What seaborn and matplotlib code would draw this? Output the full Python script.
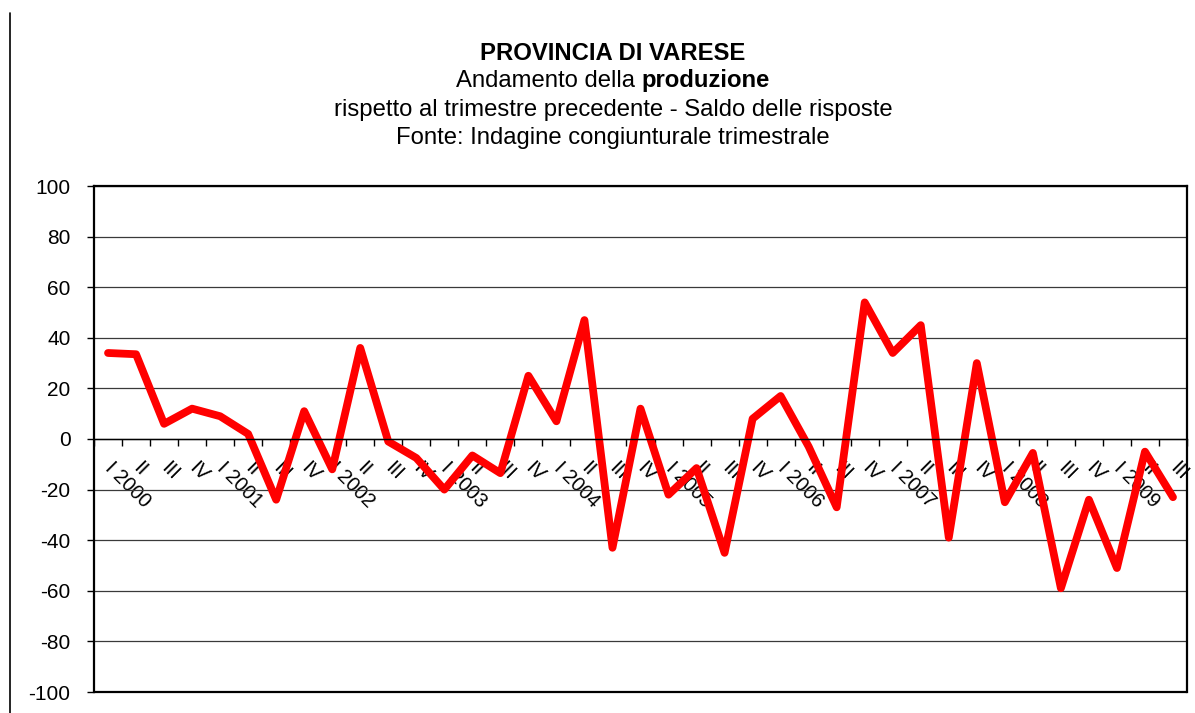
import numpy as np
import pandas as pd
import seaborn as sns
import matplotlib.pyplot as plt
from matplotlib.lines import Line2D
from matplotlib.ticker import MultipleLocator

# data (saldo delle risposte, trimestrale)
years = ["2000", "2001", "2002", "2003", "2004", "2005", "2006", "2007", "2008", "2009"]
quarters = ["I", "II", "III", "IV"]
saldo = [34, 33.5, 6, 12, 9, 2, -24, 11, -12, 36,
         -1, -7.5, -20, -6.5, -13.5, 25, 7, 47, -43, 12,
         -22, -11.5, -45, 8, 17, -3, -27, 54, 34, 45,
         -39, 30, -25, -5.5, -59, -24, -51, -5, -23]

# category labels: "I 2000", "II", "III", "IV", "I 2001", ...
labels = []
for y in years:
    for q in quarters:
        labels.append(f"{q} {y}" if q == "I" else q)
labels = labels[:len(saldo)]

df = pd.DataFrame({"pos": np.arange(len(saldo)), "saldo": saldo})

sns.set_theme(style="white")
plt.rcParams["font.family"] = ["Liberation Sans", "DejaVu Sans"]
plt.rcParams["axes.unicode_minus"] = False

W, H = 1195, 713
fig = plt.figure(figsize=(W / 100, H / 100), dpi=100)
ax = fig.add_axes([94 / W, 1 - 692 / H, (1187 - 94) / W, (692 - 186) / H])

sns.lineplot(data=df, x="pos", y="saldo", ax=ax, color="#ff0000",
             linewidth=5.6, solid_joinstyle="round", solid_capstyle="round")

ax.set_xlim(-0.5, len(saldo) - 0.5)
ax.set_ylim(-100, 100)
ax.yaxis.set_major_locator(MultipleLocator(20))
ax.yaxis.grid(True, color="#3a3a3a", linewidth=0.9)
ax.set_axisbelow(True)
ax.set_xlabel("")
ax.set_ylabel("")

# box border
for side in ["left", "top", "right"]:
    ax.spines[side].set_color("black")
    ax.spines[side].set_linewidth(1.6)
# category axis crosses at zero
ax.spines["bottom"].set_position(("data", 0))
ax.spines["bottom"].set_color("black")
ax.spines["bottom"].set_linewidth(1.0)
# bottom border of the plot area
ax.axhline(-100, color="black", linewidth=1.6, clip_on=False)

ax.set_xticks(df["pos"])
ax.set_xticklabels(labels, rotation=-45, ha="left", va="center",
                   rotation_mode="anchor", fontsize=14.5, color="black")
ax.set_xticks(np.arange(-0.5, len(saldo)), minor=True)
ax.tick_params(axis="x", which="major", length=0, pad=19)
ax.tick_params(axis="x", which="minor", length=5, width=1, color="black", direction="out", bottom=True)
ax.tick_params(axis="y", which="major", length=5, width=1, color="black", direction="out",
               left=True, labelsize=15, labelcolor="black", pad=12)

# chart frame line on the far left
fig.add_artist(Line2D([10 / W, 10 / W], [0, 1 - 13 / H], color="black", linewidth=1.2))

# titles
fs = 17.2
cx = 613 / W
fig.text(cx, 1 - 53 / H, "PROVINCIA DI VARESE", ha="center", va="center",
         fontsize=fs, fontweight="bold", color="black")
t1 = fig.text(0, 1 - 81 / H, "Andamento della", ha="left", va="center", fontsize=fs, color="black")
t2 = fig.text(0, 1 - 81 / H, "produzione", ha="left", va="center", fontsize=fs,
              fontweight="bold", color="black")
fig.text(cx, 1 - 110 / H, "rispetto al trimestre precedente - Saldo delle risposte",
         ha="center", va="center", fontsize=fs, color="black")
fig.text(cx, 1 - 138 / H, "Fonte: Indagine congiunturale trimestrale",
         ha="center", va="center", fontsize=fs, color="black")

fig.canvas.draw()
r = fig.canvas.get_renderer()
w1 = t1.get_window_extent(r).width
w2 = t2.get_window_extent(r).width
gap = fs * 100 / 72 * 0.278
x0 = cx * W - (w1 + gap + w2) / 2
t1.set_x(x0 / W)
t2.set_x((x0 + w1 + gap) / W)

fig.savefig("out.png", dpi=100, facecolor="white")
